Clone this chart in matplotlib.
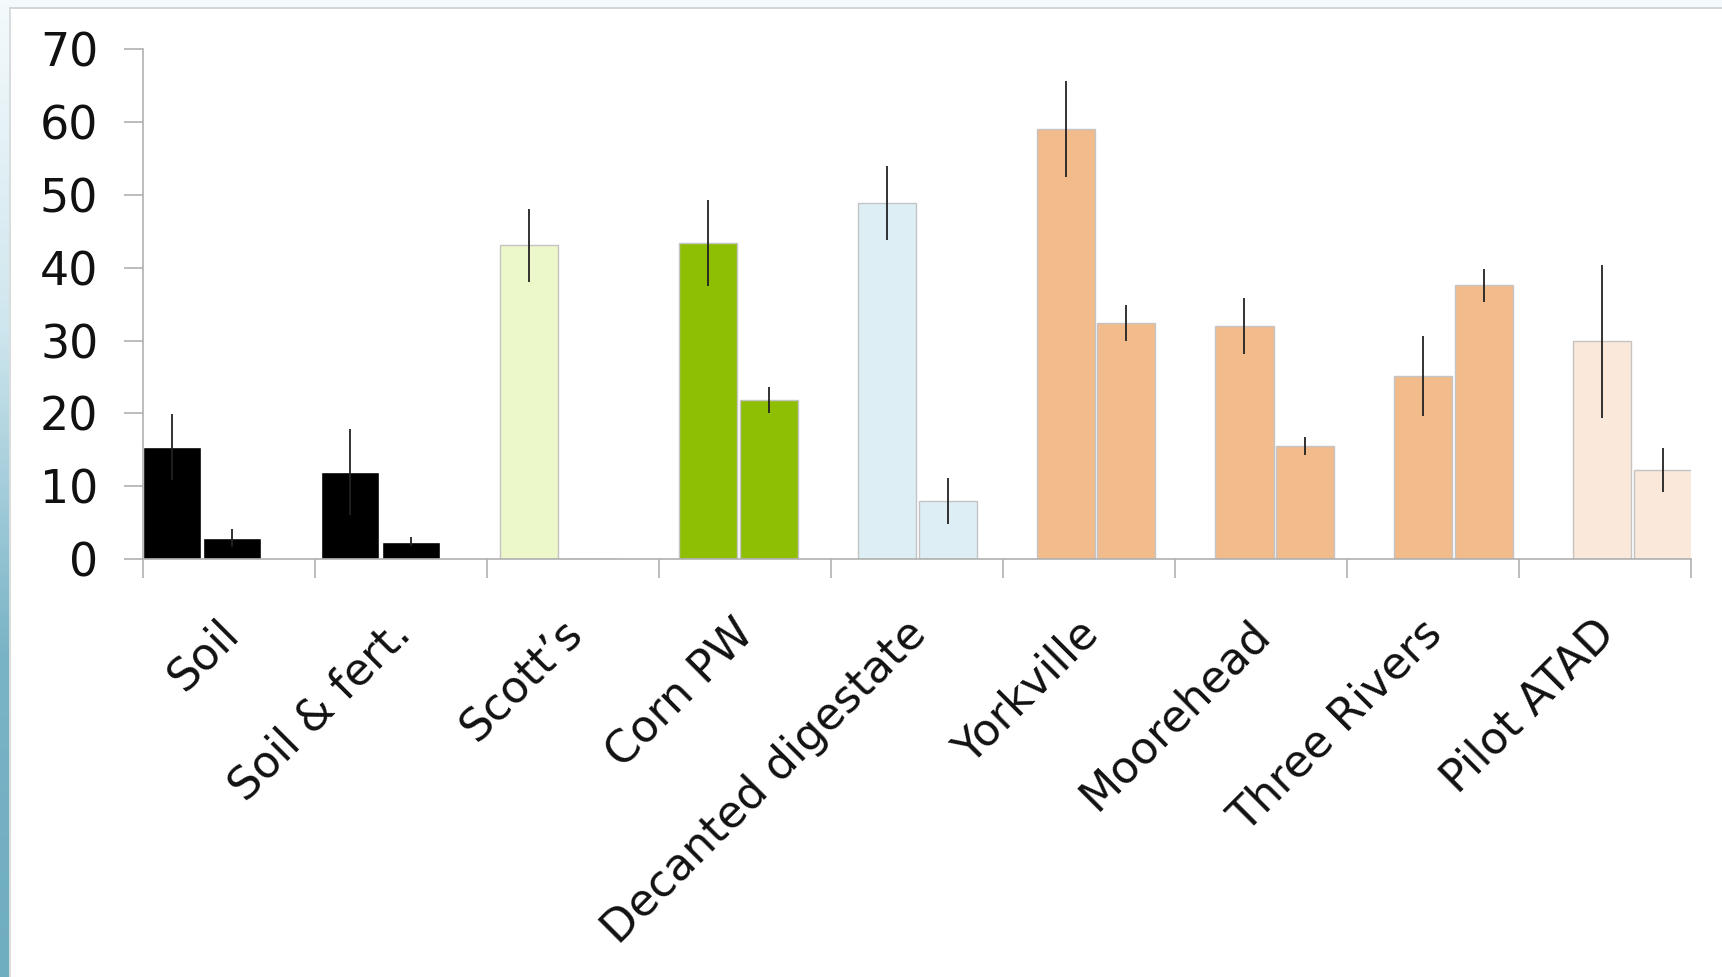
import numpy as np
import matplotlib
matplotlib.use("Agg")
import matplotlib.pyplot as plt

plt.rcParams['font.family'] = ['DejaVu Sans']

# data
categories = ["Soil", "Soil & fert.", "Scott\u2019s", "Corn PW", "Decanted digestate",
              "Yorkville", "Moorehead", "Three Rivers", "Pilot ATAD"]
first_vals = [15.4, 11.9, 43.1, 43.4, 48.9, 59.1, 32.0, 25.2, 29.9]
first_err = [4.5, 5.9, 5.0, 5.9, 5.1, 6.6, 3.8, 5.5, 10.5]
second_vals = [2.9, 2.4, 0.0, 21.9, 8.0, 32.4, 15.5, 37.6, 12.2]
second_err = [1.2, 0.6, 0.0, 1.8, 3.2, 2.5, 1.2, 2.3, 3.0]
bar_colors = ['#000000', '#000000', '#edf8ca', '#8fbf05', '#ddeef5',
              '#f2bb8b', '#f2bb8b', '#f2bb8b', '#fae8da']
yticks = [0, 10, 20, 30, 40, 50, 60, 70]

# layout: bar groups and category ticks use slightly different spacing
BAR_W = 0.325
OFFSET = 0.17
TICK0 = -0.3315
TICK_STEP = 0.962
LABEL_SHIFT = -0.07

fig = plt.figure(figsize=(17.22, 9.77), dpi=100)
fig.patch.set_facecolor('white')

# left decorative gradient strip and top band
strip = fig.add_axes([0, 0, 9 / 1722, 1])
grad = np.linspace(0, 1, 256).reshape(-1, 1)
cmap = matplotlib.colors.LinearSegmentedColormap.from_list('strip', ['#f4fafc', '#cfe6ee', '#79b4c6', '#6fadc1'])
strip.imshow(grad, aspect='auto', cmap=cmap, extent=[0, 1, 0, 1], origin='upper')
strip.axis('off')
fig.add_artist(plt.Rectangle((9 / 1722, 1 - 7 / 977), 1, 7 / 977, transform=fig.transFigure,
                             facecolor='#f4fafc', edgecolor='none', zorder=0))
fig.add_artist(plt.Line2D([9.5 / 1722, 1], [1 - 7.5 / 977, 1 - 7.5 / 977], transform=fig.transFigure,
                          color='#c8cfd2', lw=1.2))
fig.add_artist(plt.Line2D([10 / 1722, 10 / 1722], [0, 1 - 7.5 / 977], transform=fig.transFigure,
                          color='#d0d5d7', lw=1.2))

ax = fig.add_axes([0.0829, 0.4278, 0.899, 0.5216])
x = np.arange(len(categories))
edge = ['white' if c == '#000000' else '#c4c4c4' for c in bar_colors]

ax.bar(x - OFFSET, first_vals, BAR_W, color=bar_colors, edgecolor=edge, linewidth=1.0, zorder=2)
ax.bar(x + OFFSET, second_vals, BAR_W, color=bar_colors, edgecolor=edge, linewidth=1.0, zorder=2)
ax.errorbar(x - OFFSET, first_vals, yerr=first_err, fmt='none', ecolor='#222222', elinewidth=1.3, capsize=0, zorder=3)
ax.errorbar(x + OFFSET, second_vals, yerr=second_err, fmt='none', ecolor='#222222', elinewidth=1.3, capsize=0, zorder=3)

ax.set_ylim(0, 70)
ax.set_xlim(TICK0, TICK0 + TICK_STEP * len(categories))
ax.set_yticks(yticks)
ax.set_yticklabels([str(v) for v in yticks], fontsize=33, color='#111111')

bounds = TICK0 + TICK_STEP * np.arange(len(categories) + 1)
centers = bounds[:-1] + TICK_STEP / 2 + LABEL_SHIFT
ax.set_xticks(bounds)
ax.set_xticklabels([])
ax.set_xticks(centers, minor=True)
ax.set_xticklabels(categories, minor=True, rotation=45, ha='right', va='top',
                   rotation_mode='anchor', fontsize=32, color='#111111')
ax.tick_params(axis='x', which='minor', length=0, pad=38)
ax.tick_params(axis='x', which='major', length=14, width=1.2, color='#b0b0b0', direction='out')
ax.tick_params(axis='y', length=14, width=1.2, color='#b0b0b0', direction='out', pad=18)

for side in ['top', 'right']:
    ax.spines[side].set_visible(False)
for side in ['left', 'bottom']:
    ax.spines[side].set_color('#b0b0b0')
    ax.spines[side].set_linewidth(1.2)

fig.savefig('out.png', dpi=100, facecolor='white')
